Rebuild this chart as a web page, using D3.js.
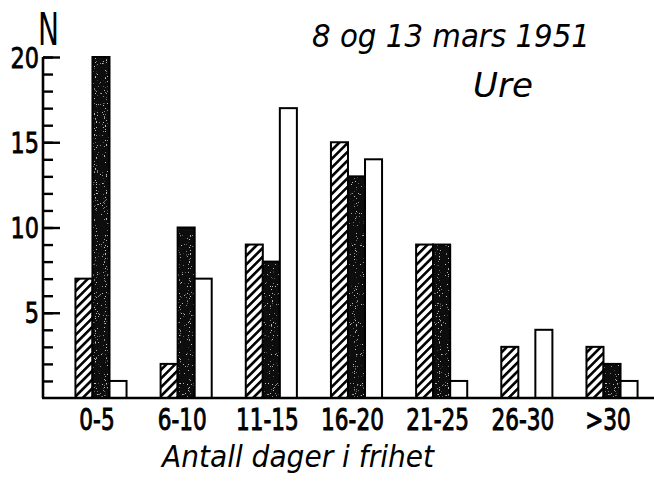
<!DOCTYPE html>
<html>
<head>
<meta charset="utf-8">
<script src="https://cdn.jsdelivr.net/npm/d3@7"></script>
<style>
  body { margin: 0; background: #fff; }
  svg { display: block; }
  text { font-family: "DejaVu Sans", sans-serif; fill: #000; }
</style>
</head>
<body>
<div id="chart"></div>
<script>
// Data
const categories = ["0-5", "6-10", "11-15", "16-20", "21-25", "26-30", ">30"];
const seriesKeys = ["hatched", "black", "white"];
const hatchedValues = [7, 2, 9, 15, 9, 3, 3];
const blackValues = [20, 10, 8, 13, 9, 0, 2];
const whiteValues = [1, 7, 17, 14, 1, 4, 1];
const yMajorTicks = [5, 10, 15, 20];
const yMinorTicks = d3.range(1, 21);
const titleLine1 = "8 og 13 mars  1951";
const titleLine2 = "Ure";
const yLabel = "N";
const xLabel = "Antall dager i frihet";

const width = 654, height = 482;

const svg = d3.select("#chart")
    .append("svg")
    .attr("width", width)
    .attr("height", height);

svg.append("rect").attr("width", width).attr("height", height).attr("fill", "#fff");

// hatch pattern (/ direction)
const defs = svg.append("defs");
const hatch = defs.append("pattern")
    .attr("id", "hatch")
    .attr("patternUnits", "userSpaceOnUse")
    .attr("width", 6.2)
    .attr("height", 6.2)
    .attr("patternTransform", "rotate(45)");
hatch.append("rect").attr("width", 6.2).attr("height", 6.2).attr("fill", "#fff");
hatch.append("rect").attr("width", 2.6).attr("height", 6.2).attr("fill", "#000");

// light speckles on the dark bars
const speck = defs.append("filter").attr("id", "speck").attr("x", 0).attr("y", 0).attr("width", 1).attr("height", 1);
speck.append("feTurbulence").attr("type", "fractalNoise").attr("baseFrequency", 0.9).attr("numOctaves", 1).attr("seed", 3).attr("result", "noise");
speck.append("feColorMatrix").attr("in", "noise").attr("type", "matrix")
    .attr("values", "0 0 0 0 0.55  0 0 0 0 0.55  0 0 0 0 0.55  -16 0 0 0 5.4")
    .attr("result", "dots");
speck.append("feComposite").attr("in", "dots").attr("in2", "SourceGraphic").attr("operator", "in").attr("result", "dotsIn");
speck.append("feMerge").call(m => {
    m.append("feMergeNode").attr("in", "SourceGraphic");
    m.append("feMergeNode").attr("in", "dotsIn");
});

const fills = { hatched: "url(#hatch)", black: "#111", white: "#fff" };

const rows = categories.map((c, i) => ({
    category: c,
    hatched: hatchedValues[i],
    black: blackValues[i],
    white: whiteValues[i]
}));

// Scales
const x = d3.scaleBand()
    .domain(categories)
    .range([58.4, 654.6])
    .paddingInner(0.4)
    .paddingOuter(0.2);

const xSub = d3.scaleBand()
    .domain(seriesKeys)
    .range([0, x.bandwidth()]);

const y = d3.scaleLinear()
    .domain([0, 20])
    .range([398, 57]);

const axisX0 = 43;

// Bars
const groups = svg.append("g")
    .selectAll("g")
    .data(rows)
    .join("g")
    .attr("transform", d => `translate(${x(d.category)},0)`);

const bars = groups.selectAll("g")
    .data(d => seriesKeys.map(k => ({ key: k, value: d[k] })).filter(d => d.value > 0))
    .join("g");

bars.append("rect")
    .attr("x", d => xSub(d.key))
    .attr("y", d => y(d.value))
    .attr("width", xSub.bandwidth())
    .attr("height", d => y(0) - y(d.value))
    .attr("fill", d => fills[d.key])
    .attr("filter", d => d.key === "black" ? "url(#speck)" : null);

bars.append("rect")
    .attr("x", d => xSub(d.key))
    .attr("y", d => y(d.value))
    .attr("width", xSub.bandwidth())
    .attr("height", d => y(0) - y(d.value))
    .attr("fill", "none")
    .attr("stroke", "#000")
    .attr("stroke-width", 2);

// Y axis: minor ticks
svg.append("g")
    .attr("transform", `translate(${axisX0},0)`)
    .call(d3.axisRight(y).tickValues(yMinorTicks).tickSize(10).tickFormat(""))
    .call(g => g.select(".domain").remove())
    .call(g => g.selectAll("line").attr("stroke", "#000").attr("stroke-width", 2.4));

// Y axis: major ticks
svg.append("g")
    .attr("transform", `translate(${axisX0},0)`)
    .call(d3.axisRight(y).tickValues(yMajorTicks).tickSize(17).tickFormat(""))
    .call(g => g.select(".domain").remove())
    .call(g => g.selectAll("line").attr("stroke", "#000").attr("stroke-width", 2.4));

// Y axis: labels
const yLab = svg.append("g")
    .attr("transform", `translate(${axisX0},0)`)
    .call(d3.axisLeft(y).tickValues(yMajorTicks).tickSize(0).tickPadding(4))
    .call(g => g.select(".domain").remove());
yLab.selectAll("text")
    .attr("font-family", "DejaVu Sans, sans-serif")
    .attr("font-size", 28)
    .attr("dy", "0.36em")
    .attr("stroke", "#000")
    .attr("stroke-width", 0.8);

// axis lines
svg.append("line")
    .attr("x1", axisX0).attr("x2", axisX0)
    .attr("y1", y(0)).attr("y2", y(20))
    .attr("stroke", "#000").attr("stroke-width", 2.6);

svg.append("line")
    .attr("x1", axisX0 - 1).attr("x2", width)
    .attr("y1", y(0)).attr("y2", y(0))
    .attr("stroke", "#000").attr("stroke-width", 2.6);

// X axis labels
const xLab = svg.append("g")
    .attr("transform", `translate(0,${y(0)})`)
    .call(d3.axisBottom(x).tickSize(0).tickPadding(11))
    .call(g => g.select(".domain").remove());
xLab.selectAll(".tick").attr("transform", d => `translate(${x(d) + x.bandwidth() / 2 - 4},0)`);
xLab.selectAll("text")
    .attr("font-family", "DejaVu Sans, sans-serif")
    .attr("font-size", 30)
    .attr("stroke", "#000")
    .attr("stroke-width", 1);

// condense lettering
function condense(sel, f) {
    sel.each(function () {
        const w = this.getComputedTextLength();
        d3.select(this).attr("textLength", w * f).attr("lengthAdjust", "spacingAndGlyphs");
    });
}
condense(yLab.selectAll("text"), 0.8);
condense(xLab.selectAll("text"), 0.72);

// Titles
svg.append("text")
    .attr("x", 312).attr("y", 47)
    .attr("font-size", 32)
    .attr("font-style", "italic")
    .attr("textLength", 278).attr("lengthAdjust", "spacingAndGlyphs")
    .text(titleLine1);

svg.append("text")
    .attr("x", 473).attr("y", 97)
    .attr("font-size", 33)
    .attr("font-style", "italic")
    .attr("textLength", 60).attr("lengthAdjust", "spacingAndGlyphs")
    .text(titleLine2);

svg.append("text")
    .attr("x", 38).attr("y", 45)
    .attr("font-size", 44)
    .attr("textLength", 21).attr("lengthAdjust", "spacingAndGlyphs")
    .text(yLabel);

svg.append("text")
    .attr("x", 162).attr("y", 467)
    .attr("font-size", 30)
    .attr("font-style", "italic")
    .attr("textLength", 272).attr("lengthAdjust", "spacingAndGlyphs")
    .text(xLabel);
</script>
</body>
</html>
